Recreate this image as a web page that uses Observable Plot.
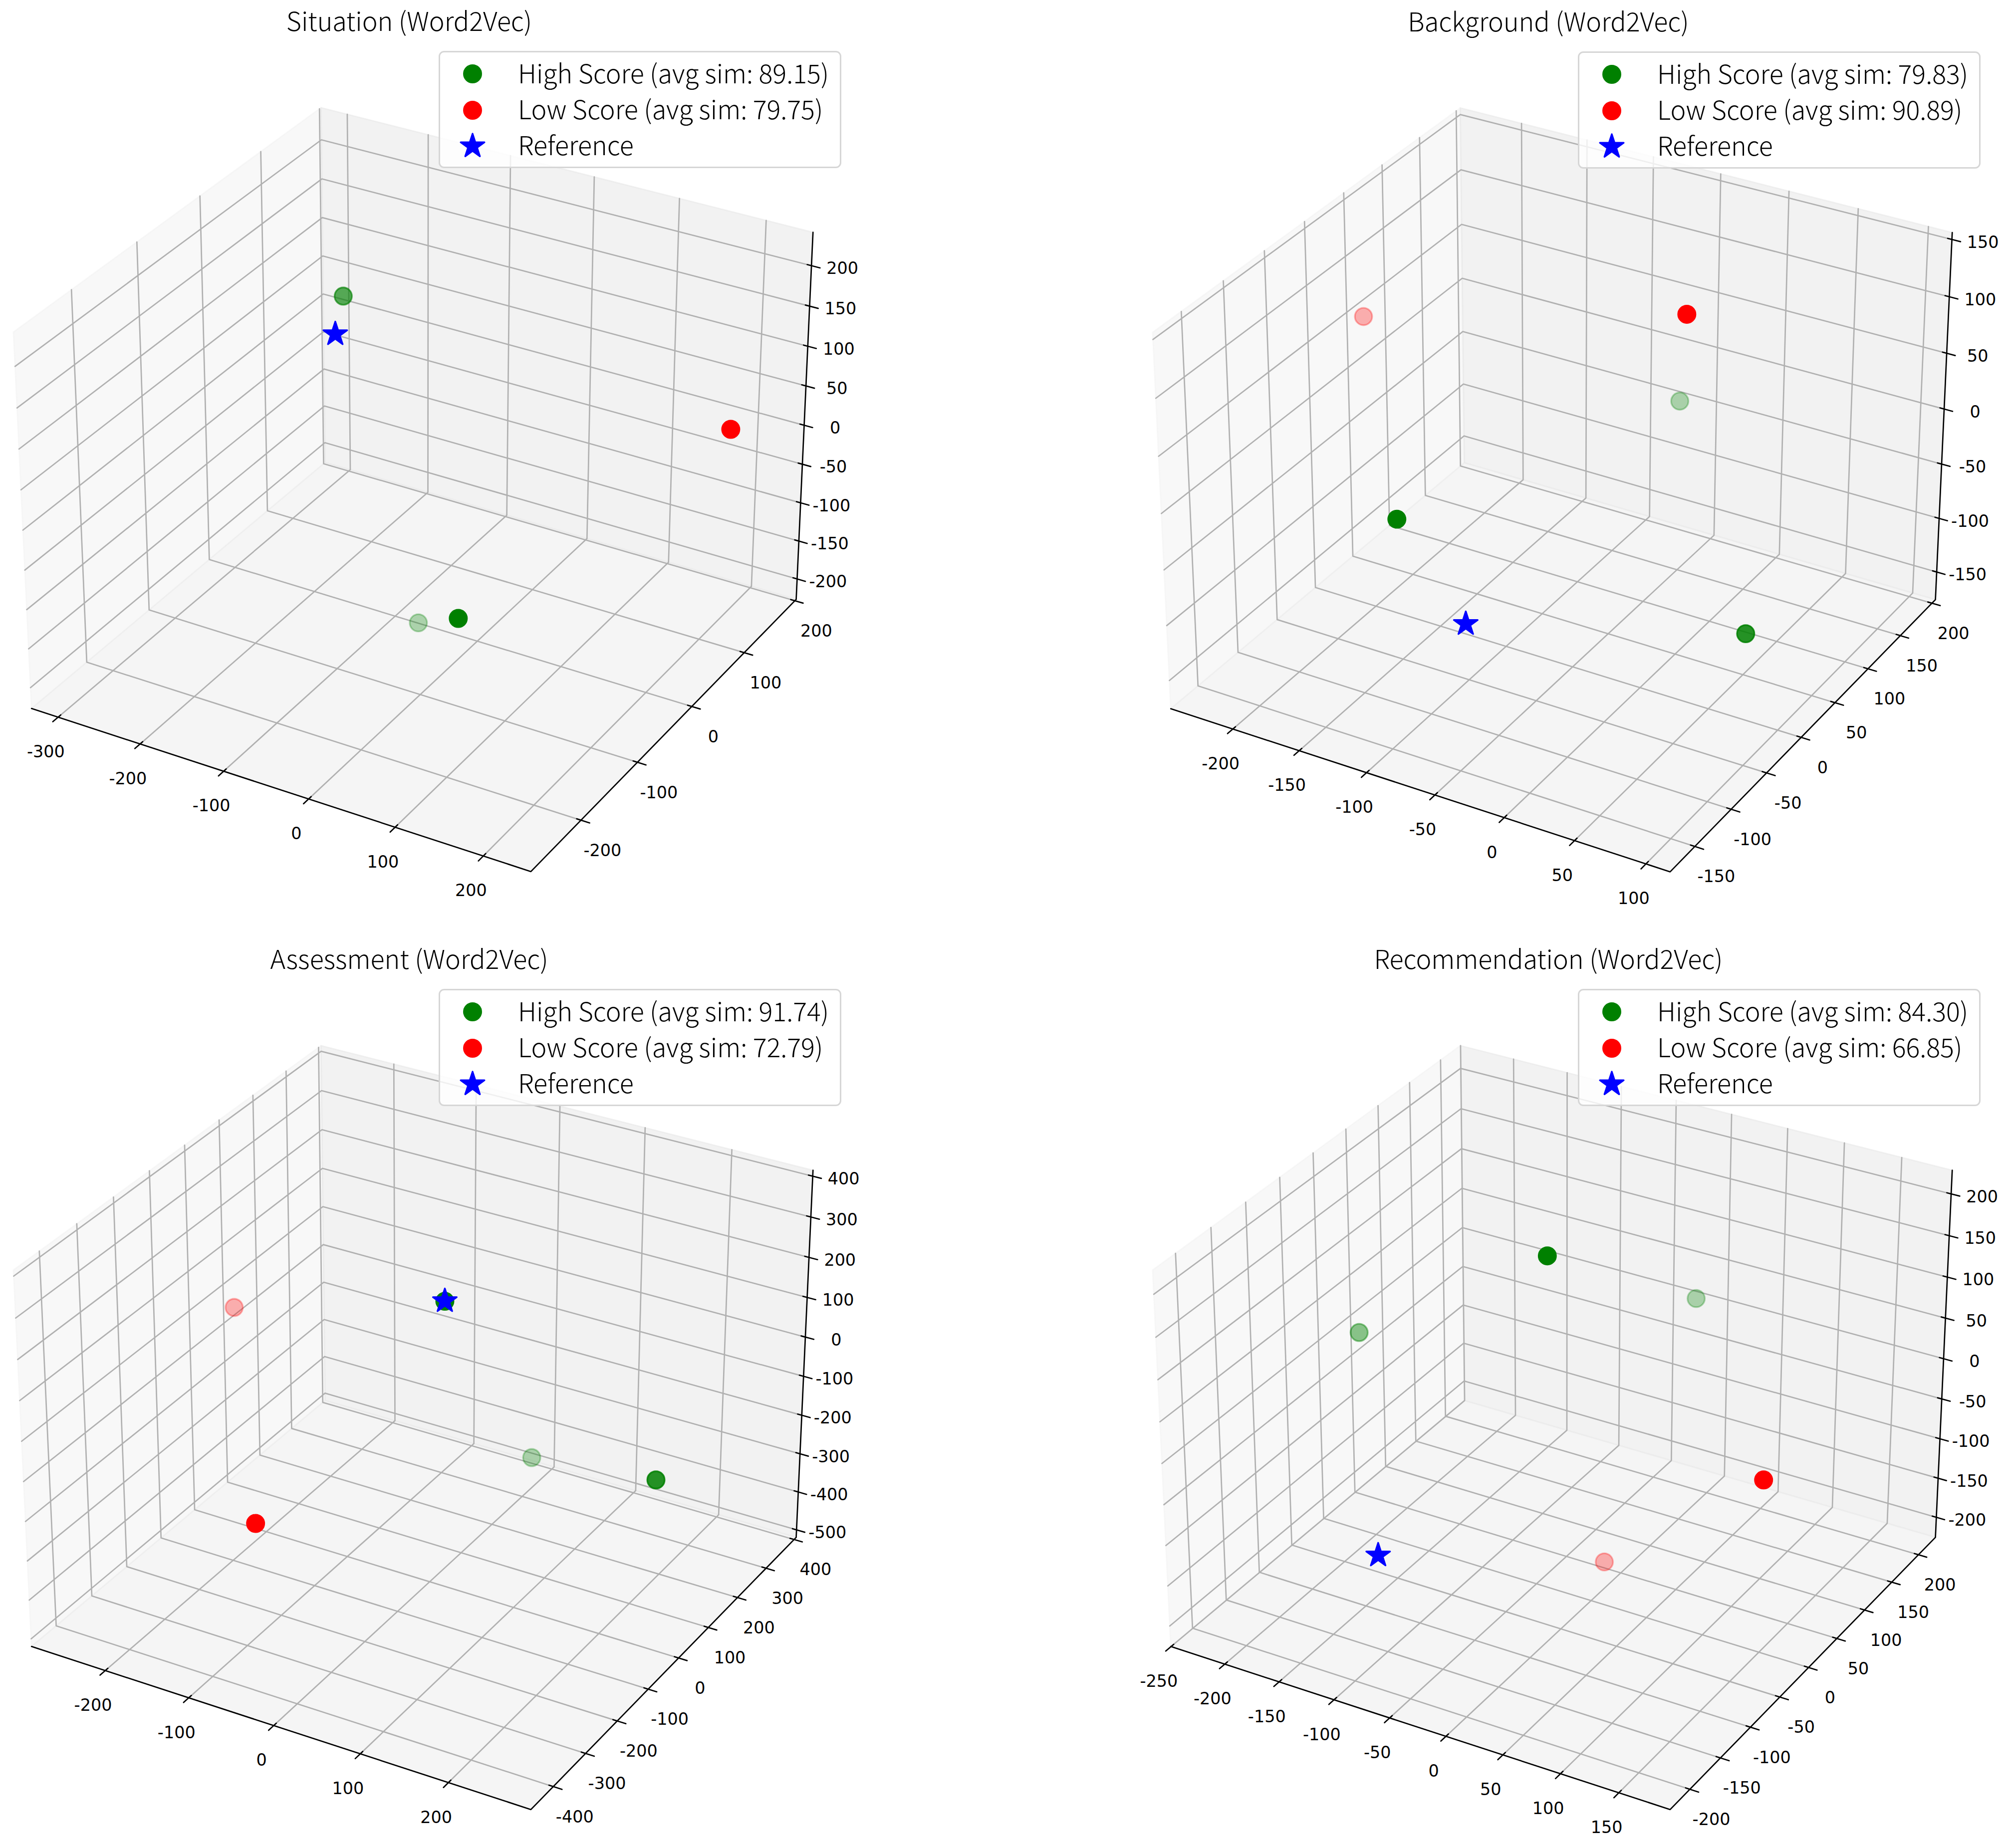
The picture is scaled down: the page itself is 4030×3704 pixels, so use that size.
<!DOCTYPE html>
<html><head><meta charset="utf-8">
<script src="https://cdn.jsdelivr.net/npm/d3@7"></script>
<script src="https://cdn.jsdelivr.net/npm/@observablehq/plot@0.6"></script>
<style>
html,body{margin:0;padding:0;background:#fff}
#page{position:relative;width:4030px;height:3704px;overflow:hidden;background:#fff}
.panel{position:absolute}
.panel svg{display:block;overflow:visible}
.ttl{position:absolute;font-family:"Noto Sans CJK KR",sans-serif;font-weight:300;font-size:52px;line-height:60px;color:#000;white-space:nowrap;transform:translate(-50%,-50%)}
.lg{position:absolute;box-sizing:border-box;width:807px;height:235px;border:3px solid #d6d6d6;border-radius:11px;background:rgba(255,255,255,.8)}
.lg svg{position:absolute;left:0;top:0;overflow:visible}
.lg span{position:absolute;left:156px;font-family:"Noto Sans CJK KR",sans-serif;font-weight:300;font-size:52px;line-height:60px;color:#000;white-space:nowrap;transform:translateY(-50%)}
</style></head><body><div id="page"></div>
<script>
// ---------- chart data ----------
const titles = ["Situation (Word2Vec)", "Background (Word2Vec)", "Assessment (Word2Vec)", "Recommendation (Word2Vec)"];
const highSim = ["89.15", "79.83", "91.74", "84.30"];
const lowSim = ["79.75", "90.89", "72.79", "66.85"];

const situationHigh = [[-115.3, -62.8, 214.1], [-48.1, -33.9, -195.6], [145.4, -248.5, 20.9]];
const situationLow = [[210.9, 129.6, 27.8]];
const situationRef = [[-187.3, 22.9, 96.0]];
const backgroundHigh = [[-59.8, 169.9, -33.1], [-94.7, -148.2, 29.3], [88.3, -26.1, -76.8]];
const backgroundLow = [[-235.3, 51.4, 49.4], [12.1, 35.8, 140.0]];
const backgroundRef = [[-81.6, -86.0, -95.5]];
const assessmentHigh = [[76.8, -157.2, 345.4], [10.1, 302.5, -411.7], [263.2, -8.1, -80.8]];
const assessmentLow = [[-262.7, 67.4, -21.1], [-40.8, -410.3, -85.9]];
const assessmentRef = [[76.8, -157.2, 346.0]];
const recommendationHigh = [[-26.6, -23.3, 199.9], [-216.3, 7.4, 18.2], [-11.1, 197.1, 19.4]];
const recommendationLow = [[-0.8, 23.4, -193.5], [174.7, -49.4, 30.1]];
const recommendationRef = [[-119.4, -129.7, -128.2]];

const xLimits = [[-332.8, 253.3], [-247.4, 116.8], [-289.9, 292.0], [-250.3, 193.5]];
const yLimits = [[-285.7, 202.7], [-183.4, 205.6], [-468.0, 407.6], [-231.8, 232.3]];
const zLimits = [[-227.1, 240.9], [-176.0, 156.0], [-519.9, 414.4], [-225.8, 228.0]];

const xTicks = [[-300, -200, -100, 0, 100, 200], [-200, -150, -100, -50, 0, 50, 100], [-200, -100, 0, 100, 200], [-250, -200, -150, -100, -50, 0, 50, 100, 150]];
const yTicks = [[-200, -100, 0, 100, 200], [-150, -100, -50, 0, 50, 100, 150, 200], [-400, -300, -200, -100, 0, 100, 200, 300, 400], [-200, -150, -100, -50, 0, 50, 100, 150, 200]];
const zTicks = [[-200, -150, -100, -50, 0, 50, 100, 150, 200], [-150, -100, -50, 0, 50, 100, 150], [-500, -400, -300, -200, -100, 0, 100, 200, 300, 400], [-200, -150, -100, -50, 0, 50, 100, 150, 200]];

// ---------- 3D camera (elevation 30, azimuth -60, distance 10) ----------
const K = 1.8294640721620434 * 25 / 24 / Math.hypot(4, 4, 3);
const BOX = [4 * K, 4 * K, 3 * K];
const U = [Math.sqrt(3) / 2, .5, 0], V = [-.25, Math.sqrt(3) / 4, Math.sqrt(3) / 2], W = [Math.sqrt(3) / 4, -.75, .5];
const dot3 = (a, b) => a[0] * b[0] + a[1] * b[1] + a[2] * b[2];

function projector(lims) {
  return ([x, y, z]) => {
    const c = [x, y, z].map((v, k) => ((v - lims[k][0]) / (lims[k][1] - lims[k][0]) - .5) * BOX[k]);
    const d = 10 - dot3(W, c);
    return {px: dot3(U, c) / d, py: dot3(V, c) / d, depth: d};
  };
}

// ---------- layout ----------
const PW = 2015, PH = 1852, SCALE = 9630;
const layout = [{left: 0, top: 0, bx: 843, by: 944}, {left: 2015, top: 0, bx: 3126, by: 944.5}, {left: 0, top: 1852, bx: 843, by: 2824}, {left: 2015, top: 1852, bx: 3126, by: 2824}];
const GREEN = "#008000", RED = "#ff0000", BLUE = "#0000ff", GRID = "#b0b0b0", LW = 2.67;

const groups = [
  [situationHigh, situationLow, situationRef],
  [backgroundHigh, backgroundLow, backgroundRef],
  [assessmentHigh, assessmentLow, assessmentRef],
  [recommendationHigh, recommendationLow, recommendationRef]
];

function shaded(points, proj) {
  const pr = points.map(proj), ds = pr.map(d => d.depth), lo = d3.min(ds), hi = d3.max(ds);
  return pr.map(d => ({...d, alpha: hi > lo ? 1 - .7 * (d.depth - lo) / (hi - lo) : 1}));
}

function panel(i) {
  const L = layout[i], lims = [xLimits[i], yLimits[i], zLimits[i]], proj = projector(lims);
  const [[x0, x1], [y0, y1], [z0, z1]] = lims;
  const ox = L.bx - L.left, oy = L.by - L.top;
  const poly = pts => pts.map(proj);
  const multi = paths => paths.flatMap((pts, id) => pts.map(p => ({...proj(p), id})));
  const pane = (pts, grey) => Plot.line(poly([...pts, pts[0]]), {x: "px", y: "py", fill: grey, fillOpacity: .5, stroke: grey, strokeOpacity: .5, strokeWidth: LW});

  const grid = multi([
    ...xTicks[i].map(t => [[t, y0, z0], [t, y1, z0], [t, y1, z1]]),
    ...yTicks[i].map(t => [[x1, t, z0], [x0, t, z0], [x0, t, z1]]),
    ...zTicks[i].map(t => [[x1, y1, t], [x0, y1, t], [x0, y0, t]])
  ]);
  const dx = (x1 - x0) / 12, dy = (y1 - y0) / 12;
  const ticks = multi([
    ...xTicks[i].map(t => [[t, y0 - .2 * dy, z0], [t, y0 + .1 * dy, z0]]),
    ...yTicks[i].map(t => [[x1 + .2 * dx, t, z0], [x1 - .1 * dx, t, z0]]),
    ...zTicks[i].map(t => [[x1 + .2 * dx, y1, t], [x1 - .1 * dx, y1, t]])
  ]);
  const labels = (vals, at) => vals.map(t => ({...proj(at(t)), label: String(t)}));
  const tickText = (data, tx, ty) => Plot.text(data, {x: "px", y: "py", text: "label", dx: tx, dy: ty, fontSize: 33.4, fontFamily: "DejaVu Sans", fill: "#000", textAnchor: "middle", lineAnchor: "middle"});

  const [hi, lo, ref] = groups[i].map(g => shaded(g, proj));
  const dots = (data, color) => data.map(d => Plot.dot([d], {x: "px", y: "py", r: 17.3, fill: color, stroke: color, strokeWidth: 3.33, fillOpacity: d.alpha, strokeOpacity: d.alpha}));

  const chart = Plot.plot({
    width: PW, height: PH, margin: 0,
    style: {background: "transparent", fontFamily: "DejaVu Sans"},
    x: {domain: [-ox / SCALE, (PW - ox) / SCALE], range: [0, PW], axis: null},
    y: {domain: [(oy - PH) / SCALE, oy / SCALE], range: [PH, 0], axis: null},
    marks: [
      pane([[x0, y0, z0], [x0, y1, z0], [x0, y1, z1], [x0, y0, z1]], "rgb(242,242,242)"),
      pane([[x0, y1, z0], [x1, y1, z0], [x1, y1, z1], [x0, y1, z1]], "rgb(230,230,230)"),
      pane([[x0, y0, z0], [x1, y0, z0], [x1, y1, z0], [x0, y1, z0]], "rgb(236,236,236)"),
      Plot.line(grid, {x: "px", y: "py", z: "id", stroke: GRID, strokeWidth: LW}),
      Plot.line(poly([[x0, y0, z0], [x1, y0, z0], [x1, y1, z0], [x1, y1, z1]]), {x: "px", y: "py", stroke: "#000", strokeWidth: LW}),
      Plot.line(ticks, {x: "px", y: "py", z: "id", stroke: "#000", strokeWidth: LW}),
      tickText(labels(xTicks[i], t => [t, y0, z0]), -24.5, 70),
      tickText(labels(yTicks[i], t => [x1, t, z0]), 43, 61),
      tickText(labels(zTicks[i], t => [x1, y1, t]), 62, 6),
      ...dots(hi, GREEN), ...dots(lo, RED),
      Plot.dot(ref, {x: "px", y: "py", r: 15, symbol: "star", fill: BLUE, stroke: BLUE, strokeWidth: 3.33, strokeLinejoin: "round"})
    ]
  });
  const wrap = document.createElement("div");
  wrap.className = "panel";
  wrap.style.cssText = `left:${L.left}px;top:${L.top}px;width:${PW}px;height:${PH}px`;
  wrap.appendChild(chart);
  page.appendChild(wrap);

  // title
  const t = document.createElement("div");
  t.className = "ttl"; t.textContent = titles[i];
  t.style.left = (L.bx - 23) + "px"; t.style.top = (L.by - 904) + "px";
  page.appendChild(t);

  // legend
  const lg = document.createElement("div");
  lg.className = "lg";
  lg.style.left = (L.bx + 36) + "px"; lg.style.top = (L.by - 842) + "px";
  const rows = [
    ["circle", GREEN, `High Score (avg sim: ${highSim[i]})`, 43, 40],
    ["circle", RED, `Low Score (avg sim: ${lowSim[i]})`, 116, 112],
    ["star", BLUE, "Reference", 188, 184]
  ];
  const NS = "http://www.w3.org/2000/svg";
  const svg = document.createElementNS(NS, "svg");
  svg.setAttribute("width", 800); svg.setAttribute("height", 230);
  for (const [shape, color, text, cy, ty] of rows) {
    const p = document.createElementNS(NS, "path");
    const size = shape === "star" ? Math.PI * 15 * 15 : Math.PI * 17.3 * 17.3;
    p.setAttribute("d", d3.symbol(shape === "star" ? d3.symbolStar : d3.symbolCircle, size)());
    p.setAttribute("transform", `translate(65,${cy})`);
    p.setAttribute("fill", color); p.setAttribute("stroke", color);
    p.setAttribute("stroke-width", 3.33); p.setAttribute("stroke-linejoin", "round");
    svg.appendChild(p);
    const s = document.createElement("span");
    s.textContent = text; s.style.top = ty + "px";
    lg.appendChild(s);
  }
  lg.appendChild(svg);
  page.appendChild(lg);
}
const page = document.getElementById("page");
titles.forEach((_, i) => panel(i));
</script></body></html>
